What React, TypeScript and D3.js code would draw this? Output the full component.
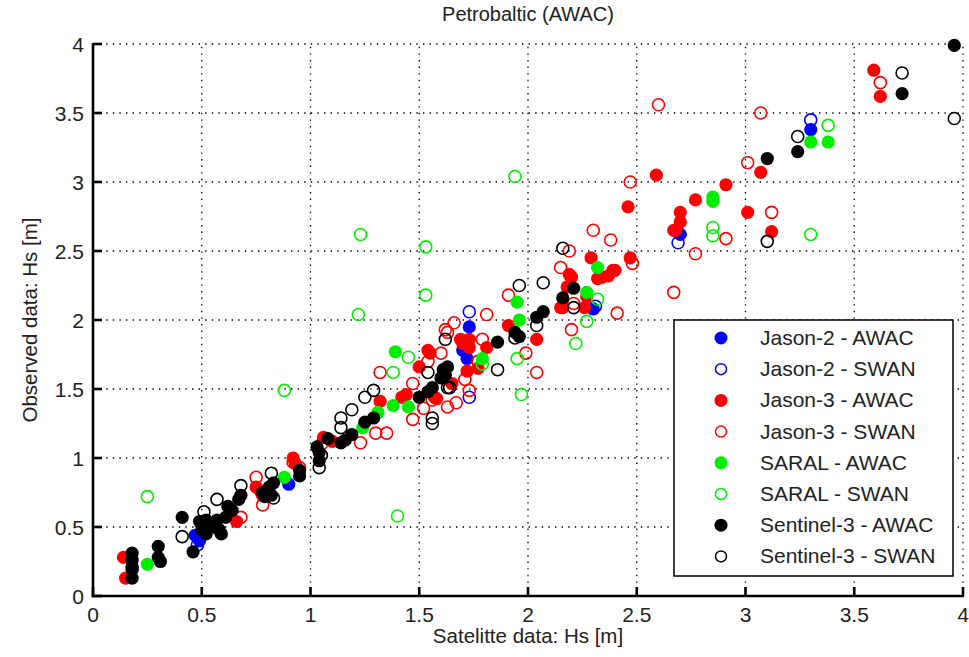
import React from "react";
import * as d3 from "d3";

type P = [number, number];

const xTicks = [0, 0.5, 1, 1.5, 2, 2.5, 3, 3.5, 4];
const yTicks = [0, 0.5, 1, 1.5, 2, 2.5, 3, 3.5, 4];
const tickLabels = ["0", "0.5", "1", "1.5", "2", "2.5", "3", "3.5", "4"];

const j2Awac: P[] = [
  [0.47, 0.44], [0.49, 0.4], [0.9, 0.81], [1.73, 1.95], [1.7, 1.78], [1.72, 1.72],
  [2.3, 2.08], [2.7, 2.62], [3.3, 3.38],
];
const j2Swan: P[] = [
  [0.48, 0.37], [1.73, 2.06], [1.73, 1.44], [2.31, 2.1], [2.69, 2.56], [3.3, 3.45],
];
const j3Awac: P[] = [
  [0.14, 0.28], [0.15, 0.13], [0.66, 0.54], [0.75, 0.79], [0.77, 0.76], [0.92, 1.0],
  [0.93, 0.96], [1.06, 1.15], [1.1, 1.12], [1.32, 1.41], [1.42, 1.44], [1.44, 1.46],
  [1.5, 1.66], [1.54, 1.78], [1.55, 1.76], [1.57, 1.44], [1.58, 1.43], [1.65, 1.54],
  [1.69, 1.86], [1.7, 1.83], [1.72, 1.63], [1.73, 1.86], [1.73, 1.8], [1.77, 1.65],
  [1.81, 1.8], [1.91, 1.96], [2.04, 1.86], [2.15, 2.09], [2.16, 2.09], [2.19, 2.33],
  [2.18, 2.24], [2.2, 2.31], [2.26, 2.09], [2.27, 2.17], [2.29, 2.45], [2.32, 2.3],
  [2.33, 2.31], [2.34, 2.31], [2.37, 2.32], [2.39, 2.36], [2.4, 2.36], [2.46, 2.82],
  [2.47, 2.45], [2.59, 3.05], [2.67, 2.65], [2.68, 2.65], [2.7, 2.71], [2.7, 2.78],
  [2.77, 2.87], [2.91, 2.98], [3.01, 2.78], [3.07, 3.07], [3.12, 2.64], [3.59, 3.81],
  [3.62, 3.62],
];
const j3Swan: P[] = [
  [0.68, 0.57], [0.75, 0.86], [0.78, 0.66], [0.78, 0.73], [0.92, 0.97], [0.95, 0.93],
  [1.05, 1.1], [1.23, 1.11], [1.3, 1.18], [1.35, 1.18], [1.32, 1.62], [1.47, 1.28],
  [1.47, 1.54], [1.52, 1.36], [1.54, 1.7], [1.56, 1.42], [1.6, 1.76], [1.62, 1.93],
  [1.63, 1.37], [1.63, 1.91], [1.66, 1.98], [1.67, 1.4], [1.71, 1.57], [1.73, 1.49],
  [1.77, 1.7], [1.79, 1.86], [1.81, 2.04], [1.91, 2.18], [1.99, 1.76], [2.04, 1.62],
  [2.15, 2.38], [2.19, 2.5], [2.2, 1.93], [2.21, 2.12], [2.3, 2.65], [2.38, 2.58],
  [2.41, 2.05], [2.47, 3.0], [2.48, 2.41], [2.6, 3.56], [2.67, 2.2], [2.77, 2.48],
  [2.91, 2.59], [3.01, 3.14], [3.07, 3.5], [3.12, 2.78], [3.62, 3.72],
];
const saralAwac: P[] = [
  [0.25, 0.23], [0.88, 0.86], [1.24, 1.22], [1.31, 1.33], [1.38, 1.38], [1.39, 1.77],
  [1.45, 1.37], [1.79, 1.72], [1.95, 2.13], [1.96, 2.0], [2.27, 2.2], [2.32, 2.38],
  [2.85, 2.89], [2.85, 2.86], [3.3, 3.29], [3.38, 3.29],
];
const saralSwan: P[] = [
  [0.25, 0.72], [0.88, 1.49], [1.22, 2.04], [1.23, 2.62], [1.38, 1.62], [1.4, 0.58],
  [1.45, 1.73], [1.53, 2.53], [1.53, 2.18], [1.79, 1.68], [1.94, 3.04], [1.95, 1.72],
  [1.97, 1.46], [2.22, 1.83], [2.27, 1.99], [2.32, 2.15], [2.85, 2.67], [2.85, 2.61],
  [3.3, 2.62], [3.38, 3.41],
];
const s3Awac: P[] = [
  [0.18, 0.31], [0.18, 0.26], [0.18, 0.19], [0.18, 0.13], [0.3, 0.36], [0.3, 0.28],
  [0.31, 0.25], [0.41, 0.57], [0.46, 0.32], [0.49, 0.54], [0.5, 0.48], [0.52, 0.55],
  [0.52, 0.45], [0.55, 0.5], [0.57, 0.55], [0.58, 0.48], [0.59, 0.45], [0.61, 0.57],
  [0.62, 0.65], [0.64, 0.62], [0.67, 0.7], [0.68, 0.73], [0.78, 0.75], [0.79, 0.72],
  [0.81, 0.79], [0.82, 0.73], [0.83, 0.82], [0.95, 0.91], [0.95, 0.87], [1.03, 1.08],
  [1.04, 1.04], [1.04, 0.98], [1.08, 1.14], [1.14, 1.11], [1.16, 1.13], [1.19, 1.17],
  [1.25, 1.26], [1.29, 1.29], [1.5, 1.44], [1.54, 1.48], [1.56, 1.51], [1.6, 1.58],
  [1.62, 1.6], [1.61, 1.64], [1.63, 1.66], [1.86, 1.84], [1.94, 1.91], [1.96, 1.88],
  [2.04, 2.02], [2.07, 2.06], [2.16, 2.16], [2.21, 2.23], [3.1, 3.17], [3.24, 3.22],
  [3.72, 3.64], [3.96, 3.99],
];
const s3Swan: P[] = [
  [0.18, 0.21], [0.41, 0.43], [0.51, 0.61], [0.57, 0.7], [0.68, 0.8], [0.82, 0.89],
  [0.83, 0.71], [1.04, 0.93], [1.05, 1.02], [1.14, 1.22], [1.14, 1.29], [1.19, 1.35],
  [1.25, 1.44], [1.29, 1.49], [1.54, 1.62], [1.56, 1.25], [1.56, 1.29], [1.62, 1.86],
  [1.63, 1.51], [1.64, 1.51], [1.86, 1.64], [1.94, 1.87], [1.96, 2.25], [2.04, 1.96],
  [2.07, 2.27], [2.16, 2.52], [2.21, 2.09], [3.1, 2.57], [3.24, 3.33], [3.72, 3.79],
  [3.96, 3.46],
];

const seriesNames = [
  "Jason-2 - AWAC", "Jason-2 - SWAN", "Jason-3 - AWAC", "Jason-3 - SWAN",
  "SARAL - AWAC", "SARAL - SWAN", "Sentinel-3 - AWAC", "Sentinel-3 - SWAN",
];
const seriesData = [j2Awac, j2Swan, j3Awac, j3Swan, saralAwac, saralSwan, s3Awac, s3Swan];
const seriesColors = ["#0000ff", "#0000ff", "#ff0000", "#ff0000", "#00ee00", "#00ee00", "#000000", "#000000"];
const seriesFilled = [true, false, true, false, true, false, true, false];

const W = 969;
const H = 657;
const L = 93, R = 963, T = 44, B = 596;
const FONT = "'Liberation Sans', Arial, sans-serif";

export default function App() {
  const x = d3.scaleLinear().domain([0, 4]).range([L, R]);
  const y = d3.scaleLinear().domain([0, 4]).range([B, T]);

  const legX = 674, legY = 320, legW = 279, legH = 256;
  const rowH = 31.2;

  return (
    <div style={{ position: "absolute", left: 0, top: 0 }}>
      <svg width={W} height={H} style={{ display: "block", background: "#fff" }}>
        <rect x={0} y={0} width={W} height={H} fill="#fff" />
        {/* grid */}
        <g stroke="#000" strokeWidth={1.3} strokeDasharray="1.4 5.2">
          {xTicks.filter((t) => t > 0).map((t) => (
            <line key={"gx" + t} x1={x(t)} x2={x(t)} y1={B} y2={T} />
          ))}
          {yTicks.filter((t) => t > 0).map((t) => (
            <line key={"gy" + t} x1={L} x2={R} y1={y(t)} y2={y(t)} />
          ))}
        </g>
        {/* data */}
        {seriesData.map((data, si) => (
          <g key={"s" + si}>
            {data.map((d, i) =>
              seriesFilled[si] ? (
                <circle key={i} cx={x(d[0])} cy={y(d[1])} r={6.6} fill={seriesColors[si]} />
              ) : (
                <circle key={i} cx={x(d[0])} cy={y(d[1])} r={6} fill="none" stroke={seriesColors[si]} strokeWidth={1.6} />
              )
            )}
          </g>
        ))}
        {/* axes */}
        <g stroke="#000" strokeWidth={2.6} fill="none">
          <line x1={L} x2={L} y1={T - 1} y2={B + 1.3} />
          <line x1={L - 1.3} x2={R + 1} y1={B} y2={B} />
          {xTicks.map((t) => (
            <line key={"tx" + t} x1={x(t)} x2={x(t)} y1={B} y2={B - 9} />
          ))}
          {yTicks.map((t) => (
            <line key={"ty" + t} x1={L} x2={L + 9} y1={y(t)} y2={y(t)} />
          ))}
        </g>
        {/* tick labels */}
        <g fontFamily={FONT} fontSize={21} fill="#222">
          {xTicks.map((t, i) => (
            <text key={"lx" + t} x={x(t)} y={B + 26} textAnchor="middle">{tickLabels[i]}</text>
          ))}
          {yTicks.map((t, i) => (
            <text key={"ly" + t} x={L - 9} y={y(t) + 7.5} textAnchor="end">{tickLabels[i]}</text>
          ))}
        </g>
        {/* title & labels */}
        <text x={(L + R) / 2} y={21} textAnchor="middle" fontFamily={FONT} fontSize={20} fill="#222">Petrobaltic (AWAC)</text>
        <text x={(L + R) / 2} y={643} textAnchor="middle" fontFamily={FONT} fontSize={20.5} fill="#222">Satelitte data: Hs [m]</text>
        <text transform={`translate(37,${(T + B) / 2}) rotate(-90)`} textAnchor="middle" fontFamily={FONT} fontSize={20.5} fill="#222">Observed data: Hs [m]</text>
        {/* legend */}
        <rect x={legX} y={legY} width={legW} height={legH} fill="#fff" stroke="#000" strokeWidth={1.5} />
        {seriesNames.map((name, i) => {
          const cy = legY + 18 + i * rowH;
          return (
            <g key={"leg" + i}>
              {seriesFilled[i] ? (
                <circle cx={721} cy={cy} r={6.5} fill={seriesColors[i]} />
              ) : (
                <circle cx={721} cy={cy} r={5.5} fill="none" stroke={seriesColors[i]} strokeWidth={1.5} />
              )}
              <text x={760} y={cy + 7} fontFamily={FONT} fontSize={21} fill="#222">{name}</text>
            </g>
          );
        })}
      </svg>
    </div>
  );
}
